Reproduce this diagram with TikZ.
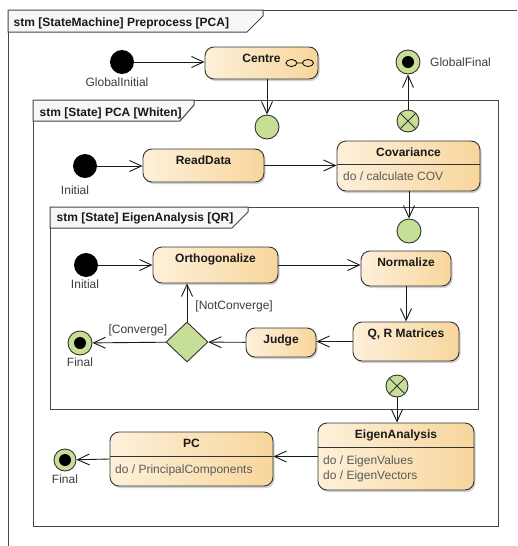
\documentclass[tikz,border=0pt]{standalone}
\usepackage{fontspec}
\setmainfont{Liberation Sans}
\usetikzlibrary{arrows.meta,positioning,shapes.geometric,shadows}

\definecolor{stateleft}{RGB}{253,240,218}
\definecolor{stateright}{RGB}{248,214,156}
\definecolor{pseudogreen}{RGB}{198,222,150}
\definecolor{framegray}{RGB}{70,70,70}
\definecolor{labelgray}{RGB}{60,60,60}
\definecolor{dogray}{RGB}{90,90,90}
\newcommand{\diagfont}{\fontsize{12}{14}\selectfont}

\tikzset{
  frame/.style={draw=framegray, line width=1pt},
  frametab/.style={frame, fill=black!3},
  frametitle/.style={font=\diagfont\bfseries, anchor=base west, inner sep=0pt, text=black!90},
  state/.style={draw=black!80, line width=0.9pt, rounded corners=9pt,
    left color=stateleft, right color=stateright,
    drop shadow={shadow xshift=1.5pt, shadow yshift=-2pt, fill=black!30, opacity=.6},
    font=\diagfont\bfseries, text=black!90, inner sep=0pt, text height=15pt},
  dotext/.style={font=\diagfont, anchor=base west, inner sep=0pt, text=dogray},
  initial/.style={circle, fill=black, minimum size=24pt, inner sep=0pt},
  entry/.style={circle, draw=black!80, line width=0.9pt, fill=pseudogreen, minimum size=24pt, inner sep=0pt},
  exitpt/.style={entry, minimum size=22pt, path picture={
      \draw[line width=0.9pt] (path picture bounding box.north west) -- (path picture bounding box.south east)
        (path picture bounding box.south west) -- (path picture bounding box.north east);}},
  final/.style={entry, path picture={\fill[black] (path picture bounding box.center) circle (6pt);}},
  choice/.style={diamond, draw=black!80, line width=0.9pt, fill=pseudogreen,
    minimum width=42pt, minimum height=40pt, inner sep=0pt},
  lbl/.style={font=\diagfont, inner sep=0pt, text=labelgray},
  trans/.style={->, line width=0.9pt, draw=black!90},
}

\begin{document}
\begin{tikzpicture}[x=1pt, y=-1pt, >={Straight Barb[length=12pt,width=11pt]}]
  \path[use as bounding box, fill=white] (0,0) rectangle (517,546);

  % frames
  \draw[frame] (517,10) -- (8,10) -- (8,546);
  \draw[frametab] (8,10) -- (263,10) -- (263,16) -- (247,32) -- (8,32) -- cycle;
  \node[frametitle] (outertitle) at (13.5,26) {stm [StateMachine] Preprocess [PCA]};

  \draw[frame] (33,100) rectangle (498,526);
  \draw[frametab] (33,100) -- (194,100) -- (194,105) -- (180,121) -- (33,121) -- cycle;
  \node[frametitle] (whitentitle) at (39.5,116.5) {stm [State] PCA [Whiten]};

  \draw[frame] (50,207) rectangle (478,409);
  \draw[frametab] (50,207) -- (248,207) -- (248,212) -- (232,228) -- (50,228) -- cycle;
  \node[frametitle] (qrtitle) at (56.5,221.5) {stm [State] EigenAnalysis [QR]};

  % states
  \node[state, minimum width=113pt, text depth=17pt] (centre) at (261.5,63) {Centre};
  \draw[line width=0.8pt] ([xshift=-27pt]centre.east) ellipse [x radius=5.5pt, y radius=3.5pt]
    ([xshift=-10.5pt]centre.east) ellipse [x radius=5.5pt, y radius=3.5pt]
    ([xshift=-21.5pt]centre.east) -- ([xshift=-16pt]centre.east);
  \node[state, minimum width=121pt, text depth=18pt] (readdata) at (203.5,165.5) {ReadData};
  \node[state, minimum width=143pt, text depth=35pt] (cov) at (408.5,166) {Covariance};
  \draw[line width=0.9pt, black!80] ([yshift=-24pt]cov.north west) -- ([yshift=-24pt]cov.north east);
  \node[dotext] (covdo) at (343,180.5) {do / calculate COV};
  \node[state, minimum width=125pt, text depth=21pt] (ortho) at (215.5,265) {Orthogonalize};
  \node[state, minimum width=90pt, text depth=20pt] (norm) at (406,268.5) {Normalize};
  \node[state, minimum width=106pt, text depth=24pt] (qr) at (406,341.5) {Q, R Matrices};
  \node[state, minimum width=70pt, text depth=14pt] (judge) at (281,342.5) {Judge};
  \node[state, minimum width=156pt, text depth=52pt] (eigen) at (396,456.5) {EigenAnalysis};
  \draw[line width=0.9pt, black!80] ([yshift=-25pt]eigen.north west) -- ([yshift=-25pt]eigen.north east);
  \node[dotext] (eigendo1) at (323,464.3) {do / EigenValues};
  \node[dotext] (eigendo2) at (323,479.3) {do / EigenVectors};
  \node[state, minimum width=163pt, text depth=39pt] (pc) at (191.5,459) {PC};
  \draw[line width=0.9pt, black!80] ([yshift=-25pt]pc.north west) -- ([yshift=-25pt]pc.north east);
  \node[dotext] (pcdo) at (115,473.3) {do / PrincipalComponents};

  % pseudostates
  \node[initial] (ginit) at (122,62) {};
  \node[entry] (gentry) at (267,127) {};
  \node[final] (gfinal) at (408,62) {};
  \node[exitpt] (gexit) at (408,121) {};
  \node[initial] (winit) at (85,166) {};
  \node[entry] (qentry) at (409,231) {};
  \node[initial] (qinit) at (86,265) {};
  \node[choice] (judgechoice) at (187,342) {};
  \node[final] (qfinal) at (80,343) {};
  \node[exitpt] (qexit) at (397,386) {};
  \node[final, minimum size=22pt] (wfinal) at (65,460) {};

  \node[lbl, anchor=base] (ginitlbl) at ([xshift=-5pt,yshift=-24pt]ginit.center) {GlobalInitial};
  \node[lbl, anchor=base west] (gfinallbl) at ([xshift=22pt,yshift=-4.3pt]gfinal.center) {GlobalFinal};
  \node[lbl, anchor=base] (winitlbl) at ([xshift=-10pt,yshift=-28.3pt]winit.center) {Initial};
  \node[lbl, anchor=base] (qinitlbl) at ([xshift=-1pt,yshift=-23.3pt]qinit.center) {Initial};
  \node[lbl, anchor=base] (qfinallbl) at ([yshift=-23.3pt]qfinal.center) {Final};
  \node[lbl, anchor=base] (wfinallbl) at ([yshift=-23.3pt]wfinal.center) {Final};

  % transitions
  \draw[trans] (ginit) -- (ginit -| centre.west);
  \draw[trans] (gentry |- centre.south) -- (gentry);
  \draw[trans] (gexit) -- (gfinal);
  \draw[trans] (winit) -- (winit -| readdata.west);
  \draw[trans] (readdata.east) -- (readdata.east -| cov.west);
  \draw[trans] (qentry |- cov.south) -- (qentry);
  \draw[trans] (qinit) -- (qinit -| ortho.west);
  \draw[trans] (ortho.east) -- (ortho.east -| norm.west);
  \draw[trans] (norm) -- (qr);
  \draw[trans] (qr.west) -- (qr.west -| judge.east);
  \draw[trans] (judge) -- (judgechoice);
  \draw[trans] (judgechoice) -- node[lbl, pos=0.44, anchor=base west, xshift=8pt, yshift=-4.3pt] (notconv) {[NotConverge]} (judgechoice |- ortho.south);
  \draw[trans] (judgechoice) -- node[lbl, pos=0.38, anchor=base, yshift=8.7pt] (conv) {[Converge]} (qfinal);
  \draw[trans] (qexit) -- (qexit |- eigen.north);
  \draw[trans] (eigen.west) -- (eigen.west -| pc.east);
  \draw[trans] (pc.west) -- (wfinal);
\end{tikzpicture}
\end{document}
